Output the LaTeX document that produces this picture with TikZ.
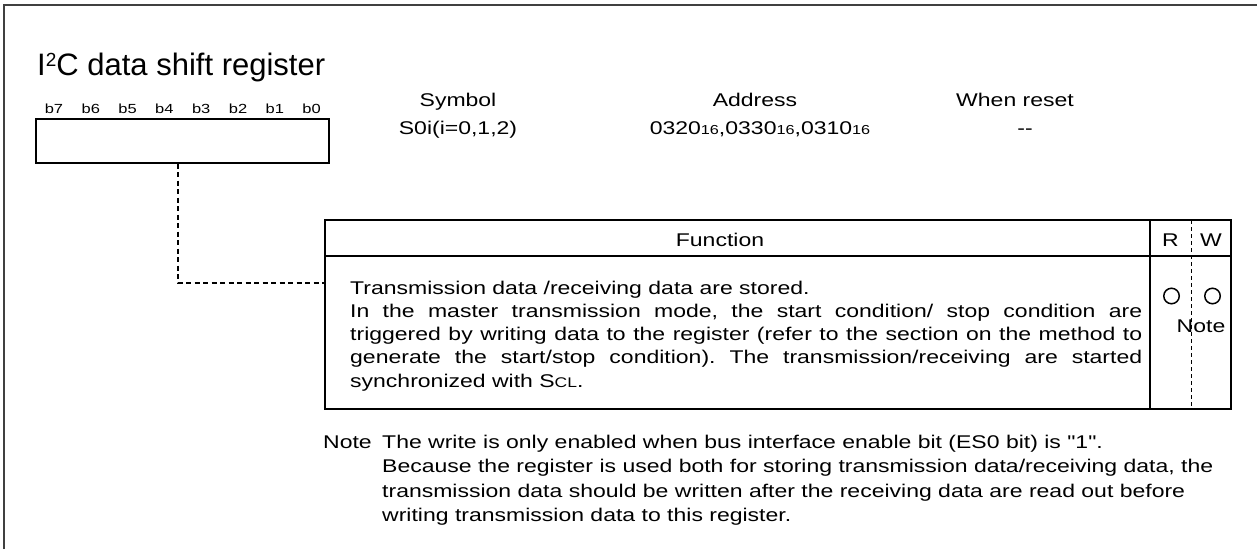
\documentclass[tikz,border=0pt]{standalone}
\usepackage{fontspec}
\setmainfont{Liberation Sans}
\newfontfamily\widesans[FakeStretch=1.25]{Liberation Sans}
\usepackage{tikz}
\usetikzlibrary{positioning}
\frenchspacing

\newcommand{\hexnum}[1]{#1{\fontsize{13}{14}\selectfont 16}}

\begin{document}
\begin{tikzpicture}[x=1pt, y=-1pt,
  lbl/.style={inner sep=0pt, font=\widesans\fontsize{18.4}{23.3}\selectfont},
  bitlbl/.style={inner sep=0pt, font=\widesans\fontsize{13.2}{14}\selectfont},
  regbox/.style={draw, line width=1.3pt, minimum width=293pt, minimum height=44pt, inner sep=0pt},
  tline/.style={line width=1.8pt},
  rwmark/.style={draw, circle, line width=1.5pt, minimum size=15.5pt, inner sep=0pt},
  link/.style={line width=1.6pt, dash pattern=on 5pt off 3.5pt},
]
\useasboundingbox (0,0) rectangle (1257,549);
\def\xL{325}  % table left
\def\xR{1231} % table right
\def\xS{1150} % R/W column
\def\xD{1191} % R|W split
\def\yT{220}
\def\yH{256}
\def\yB{409}
% outer frame (cut at right and bottom)
\draw[line width=1.6pt, black!75] (4,549) -- (4,5) -- (1257,5);
% title and register
\node[anchor=base west, inner sep=0pt, font=\fontsize{31}{32}\selectfont] (title) at (37,75)
  {I\raisebox{8.5pt}{\fontsize{19}{19}\selectfont 2}C data shift register};
\foreach \b [count=\i from 0] in {7,6,5,4,3,2,1,0}{
  \node[bitlbl, anchor=base] (b\b) at (54+36.8*\i,113) {b\b};
}
\node[regbox] (reg) at (182.5,141) {};
% symbol / address / reset
\node[lbl, anchor=base] (symhd) at (458,106) {Symbol};
\node[lbl, anchor=base] (sym) at (458,134) {S0i(i=0,1,2)};
\node[lbl, anchor=base] (addrhd) at (755,106) {Address};
\node[lbl, anchor=base] (addr) at (760,134) {\hexnum{0320},\hexnum{0330},\hexnum{0310}};
\node[lbl, anchor=base] (rsthd) at (1015,106) {When reset};
\node[lbl, anchor=base] (rst) at (1025,134) {-{}-};
% function table
\draw[tline] (\xL,\yT) rectangle (\xR,\yB);
\draw[tline] (\xL,\yH) -- (\xR,\yH);
\draw[tline] (\xS,\yT) -- (\xS,\yB);
\draw[line width=1pt, dash pattern=on 4pt off 3pt] (\xD,\yT) -- (\xD,\yB);
\node[lbl, anchor=base] (funchd) at (720,246) {Function};
\node[lbl, anchor=base] (rhd) at (1170.5,246) {R};
\node[lbl, anchor=base] (whd) at (1211,246) {W};
\node[lbl, anchor=base west, text width=792pt, align=justify] (func) at (350,294)
  {Transmission data /receiving data are stored.\\
   In the master transmission mode, the start condition/ stop condition are\linebreak
   triggered by writing data to the register (refer to the section on the method to\linebreak
   generate the start/stop condition). The transmission/receiving are started\linebreak
   synchronized with S{\fontsize{14}{14}\selectfont CL}.};
\node[rwmark] (rd) at (1171.5,296) {};
\node[rwmark] (wr) at (1212.5,296) {};
\node[lbl, anchor=base] (wnote) at (1201,332) {Note};
% register -> function
\coordinate (tap) at (\xL,283);
\draw[link] ([xshift=-4.5pt]reg.south) |- (tap);
% note below
\node[lbl, anchor=base west] (notehd) at (323,448) {Note};
\node[lbl, anchor=base west, align=left, font=\widesans\fontsize{18.4}{24.5}\selectfont] (notetxt) at (382,521.5)
  {The write is only enabled when bus interface enable bit (ES0 bit) is "1".\\
   Because the register is used both for storing transmission data/receiving data, the\\
   transmission data should be written after the receiving data are read out before\\
   writing transmission data to this register.};
\end{tikzpicture}
\end{document}
